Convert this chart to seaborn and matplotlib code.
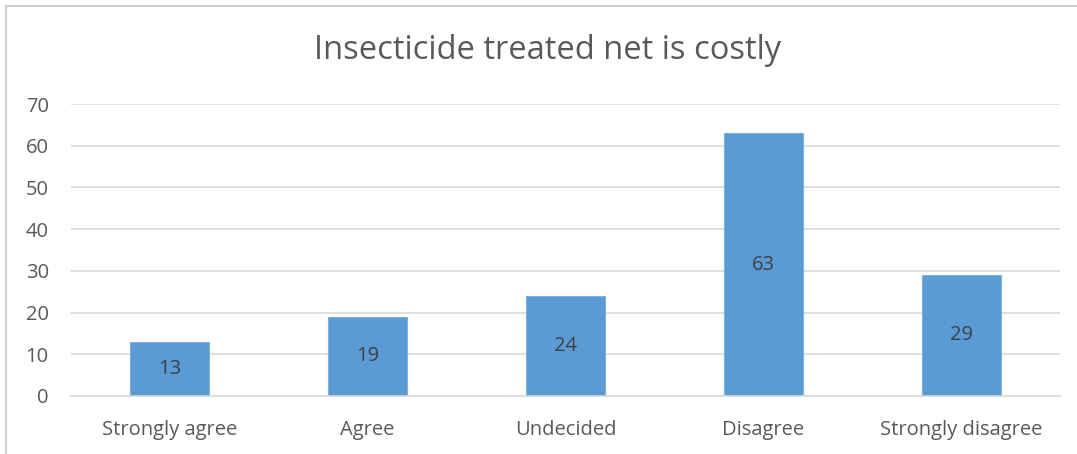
import matplotlib
matplotlib.use("Agg")
import matplotlib.pyplot as plt
from matplotlib.patches import Rectangle
import seaborn as sns
import pandas as pd

categories = ["Strongly agree", "Agree", "Undecided", "Disagree", "Strongly disagree"]
counts = [13, 19, 24, 63, 29]
y_ticks = [0, 10, 20, 30, 40, 50, 60, 70]
title = "Insecticide treated net is costly"

sns.set_theme(style="white")
plt.rcParams["font.family"] = ["Open Sans", "DejaVu Sans"]

df = pd.DataFrame({"response": categories, "count": counts})

fig = plt.figure(figsize=(10.77, 4.54), dpi=100)
ax = fig.add_axes([0.0659, 0.1278, 0.9183, 0.6431])

sns.barplot(data=df, x="response", y="count", ax=ax, width=0.4,
            color="#5B9BD5", edgecolor="#7FB1DE", linewidth=0.8, saturation=1)

ax.set_ylim(0, 70)
ax.set_xlim(-0.5, len(categories) - 0.5)
ax.set_yticks(y_ticks)
ax.yaxis.grid(True, color="#D9D9D9", linewidth=1.2)
ax.set_axisbelow(True)
for s in ["left", "right", "top"]:
    ax.spines[s].set_visible(False)
ax.spines["bottom"].set_color("#D9D9D9")
ax.spines["bottom"].set_linewidth(1.2)
ax.tick_params(axis="both", length=0, labelsize=14.5, colors="#595959")
ax.tick_params(axis="y", pad=16)
ax.tick_params(axis="x", pad=17)
ax.set_xlabel("")
ax.set_ylabel("")

for c in ax.containers:
    ax.bar_label(c, label_type="center", fontsize=14.5, color="#404040")

fig.text(0.508, 0.888, title, ha="center", va="center", fontsize=23.5, color="#595959")

# outer chart frame
fig.patches.append(Rectangle((6 / 1077, -0.1), 1.2, 1 - 6 / 454 + 0.1,
                             transform=fig.transFigure, fill=False,
                             edgecolor="#D0D0D0", linewidth=1.5))

fig.savefig("out.png", dpi=100)
